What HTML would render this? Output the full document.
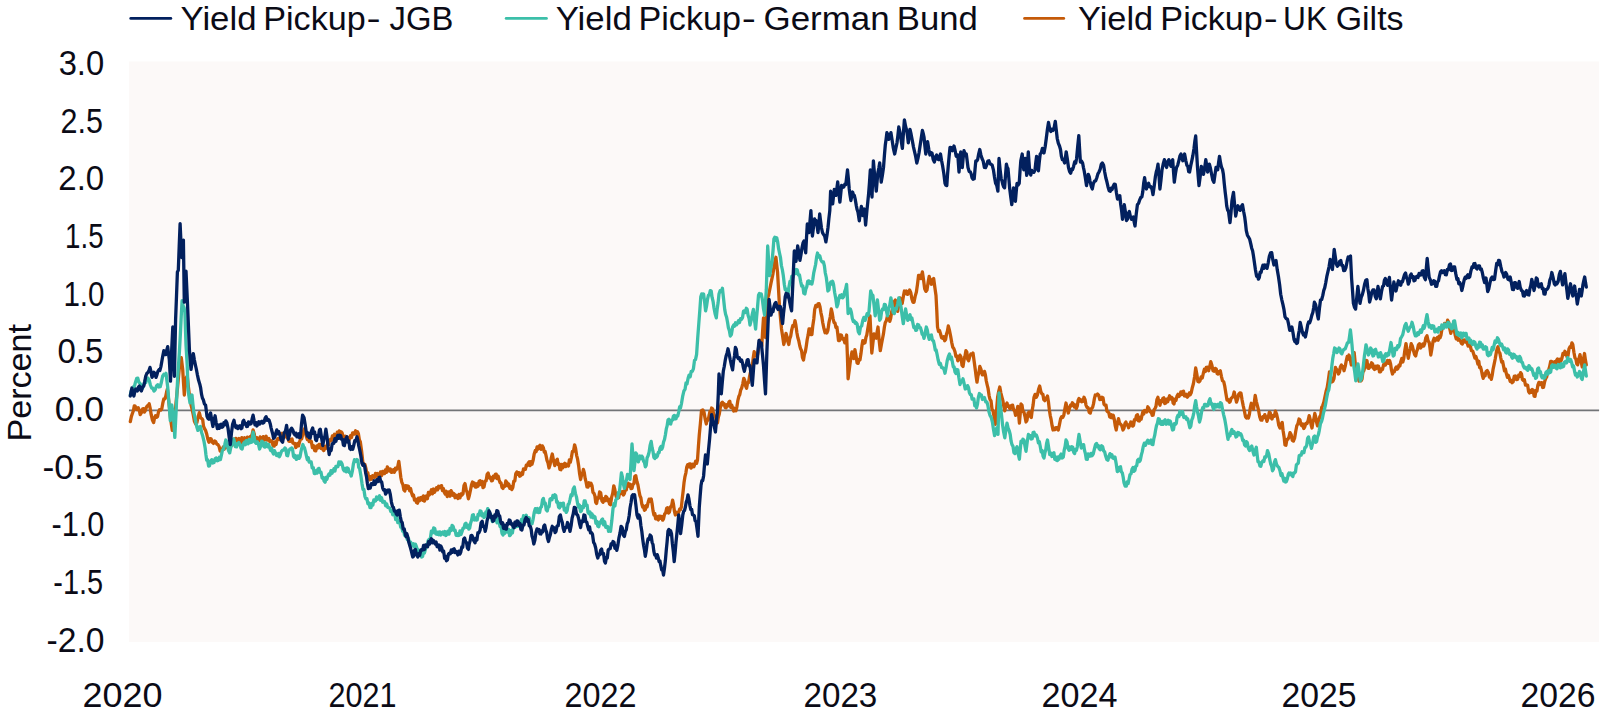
<!DOCTYPE html>
<html lang="en"><head><meta charset="utf-8"><title>Yield Pickup</title>
<style>
html,body{margin:0;padding:0;background:#fff;}
body{width:1600px;height:711px;overflow:hidden;}
svg{display:block;}
text{font-family:"Liberation Sans",sans-serif;fill:#0b0b16;}
.ln{fill:none;stroke-width:3.3;stroke-linejoin:round;stroke-linecap:round;}
</style></head><body>
<svg width="1600" height="711" viewBox="0 0 1600 711">
<rect x="0" y="0" width="1600" height="711" fill="#ffffff"/>
<rect x="129" y="61.5" width="1470.1" height="580.6" fill="#fcf9f8"/>
<line x1="129" y1="410.4" x2="1599.1" y2="410.4" stroke="#727477" stroke-width="1.9"/>

<line x1="130.8" y1="18.4" x2="170.8" y2="18.4" stroke="#02205e" stroke-width="2.9" stroke-linecap="round"/>
<line x1="506.2" y1="18.4" x2="546.4" y2="18.4" stroke="#3cbfa9" stroke-width="2.9" stroke-linecap="round"/>
<line x1="1024.6" y1="18.4" x2="1063.7" y2="18.4" stroke="#c55a08" stroke-width="2.9" stroke-linecap="round"/>
<text y="29.7" font-size="33.5"><tspan x="180.48" textLength="76.06" lengthAdjust="spacingAndGlyphs">Yield</tspan><tspan> </tspan><tspan x="263.27" textLength="102.46" lengthAdjust="spacingAndGlyphs">Pickup</tspan><tspan x="366.51" textLength="14.13" lengthAdjust="spacingAndGlyphs">-</tspan><tspan> </tspan><tspan x="389.51" textLength="63.78" lengthAdjust="spacingAndGlyphs">JGB</tspan></text>
<text y="29.7" font-size="33.5"><tspan x="555.66" textLength="76.10" lengthAdjust="spacingAndGlyphs">Yield</tspan><tspan> </tspan><tspan x="638.47" textLength="102.46" lengthAdjust="spacingAndGlyphs">Pickup</tspan><tspan x="741.71" textLength="14.13" lengthAdjust="spacingAndGlyphs">-</tspan><tspan> </tspan><tspan x="763.49" textLength="126.23" lengthAdjust="spacingAndGlyphs">German</tspan><tspan> </tspan><tspan x="896.79" textLength="81.02" lengthAdjust="spacingAndGlyphs">Bund</tspan></text>
<text y="29.7" font-size="33.5"><tspan x="1078.09" textLength="75.03" lengthAdjust="spacingAndGlyphs">Yield</tspan><tspan> </tspan><tspan x="1160.36" textLength="102.47" lengthAdjust="spacingAndGlyphs">Pickup</tspan><tspan x="1263.65" textLength="14.01" lengthAdjust="spacingAndGlyphs">-</tspan><tspan> </tspan><tspan x="1283.05" textLength="44.09" lengthAdjust="spacingAndGlyphs">UK</tspan><tspan> </tspan><tspan x="1335.70" textLength="67.82" lengthAdjust="spacingAndGlyphs">Gilts</tspan></text>
<text x="58.65" y="74.8" font-size="34.5" textLength="45.52" lengthAdjust="spacingAndGlyphs">3.0</text>
<text x="60.52" y="132.5" font-size="34.5" textLength="42.38" lengthAdjust="spacingAndGlyphs">2.5</text>
<text x="58.30" y="190.2" font-size="34.5" textLength="45.83" lengthAdjust="spacingAndGlyphs">2.0</text>
<text x="65.09" y="247.9" font-size="34.5" textLength="38.45" lengthAdjust="spacingAndGlyphs">1.5</text>
<text x="63.43" y="305.6" font-size="34.5" textLength="41.11" lengthAdjust="spacingAndGlyphs">1.0</text>
<text x="57.48" y="363.3" font-size="34.5" textLength="45.84" lengthAdjust="spacingAndGlyphs">0.5</text>
<text x="54.66" y="421.0" font-size="34.5" textLength="49.49" lengthAdjust="spacingAndGlyphs">0.0</text>
<text x="42.50" y="478.7" font-size="34.5" textLength="61.22" lengthAdjust="spacingAndGlyphs">-0.5</text>
<text x="51.47" y="536.4" font-size="34.5" textLength="53.01" lengthAdjust="spacingAndGlyphs">-1.0</text>
<text x="53.28" y="594.1" font-size="34.5" textLength="49.81" lengthAdjust="spacingAndGlyphs">-1.5</text>
<text x="46.50" y="651.8" font-size="34.5" textLength="58.00" lengthAdjust="spacingAndGlyphs">-2.0</text>
<text x="82.50" y="706.7" font-size="34.5" textLength="80.00" lengthAdjust="spacingAndGlyphs">2020</text>
<text x="328.50" y="706.7" font-size="34.5" textLength="68.00" lengthAdjust="spacingAndGlyphs">2021</text>
<text x="564.50" y="706.7" font-size="34.5" textLength="72.00" lengthAdjust="spacingAndGlyphs">2022</text>
<text x="803.51" y="706.7" font-size="34.5" textLength="73.81" lengthAdjust="spacingAndGlyphs">2023</text>
<text x="1041.50" y="706.7" font-size="34.5" textLength="76.00" lengthAdjust="spacingAndGlyphs">2024</text>
<text x="1281.50" y="706.7" font-size="34.5" textLength="75.00" lengthAdjust="spacingAndGlyphs">2025</text>
<text x="1520.50" y="706.7" font-size="34.5" textLength="75.00" lengthAdjust="spacingAndGlyphs">2026</text>
<text transform="translate(30.8,441.6) rotate(-90)" font-size="32.8" textLength="117.7" lengthAdjust="spacingAndGlyphs">Percent</text>
<polyline class="ln" stroke="#c55a08" points="130.3,421.6 131.3,416.8 132.3,413.7 133.3,411.0 134.3,405.8 135.2,406.3 136.2,408.8 137.2,409.6 138.2,407.8 139.2,409.9 140.2,414.7 141.4,412.6 142.7,408.8 143.6,408.6 144.4,412.1 145.3,410.7 146.3,407.4 147.3,405.8 148.2,405.6 149.2,403.8 150.2,408.4 151.2,414.7 152.4,420.0 153.6,422.6 154.6,417.7 155.5,415.7 156.5,417.3 157.5,416.6 158.5,411.9 159.5,409.8 160.7,410.2 161.8,408.8 162.8,403.2 163.8,398.9 164.8,399.0 165.8,396.0 166.6,392.0 167.4,389.0 168.2,396.5 168.9,402.9 169.7,409.9 170.5,418.0 171.4,424.5 172.3,430.4 173.2,426.1 174.2,424.5 175.1,415.5 175.9,404.2 176.8,395.0 178.0,382.6 179.2,369.4 180.2,362.7 181.3,357.6 182.7,369.4 183.5,382.7 184.3,395.0 185.7,379.2 186.6,377.0 187.4,377.3 188.4,386.9 189.4,395.0 190.3,398.7 191.1,405.3 192.0,408.8 193.2,414.5 194.5,421.6 195.7,423.9 196.9,422.6 198.1,417.0 199.3,412.7 200.6,417.7 201.8,418.6 202.7,419.8 203.5,426.1 204.4,428.5 205.6,430.4 206.7,434.0 207.8,439.0 208.9,442.2 210.1,438.6 211.2,438.9 212.3,442.4 213.4,443.4 214.6,441.0 215.7,441.7 216.8,444.1 217.9,444.5 219.1,446.5 220.2,451.2 221.3,451.2 222.4,449.0 223.3,447.0 224.1,449.3 225.0,447.0 226.2,445.9 227.5,447.9 228.8,448.5 230.0,445.0 231.0,441.9 232.0,445.5 233.0,442.0 233.9,439.1 234.8,443.5 235.8,438.4 236.7,441.1 237.6,439.4 238.8,438.4 239.9,441.1 240.8,442.9 241.8,437.7 242.7,439.4 243.6,441.3 244.6,437.8 245.5,440.0 246.4,440.8 247.4,437.1 248.3,438.9 249.2,440.3 250.2,436.8 251.1,437.7 252.1,434.5 253.1,429.9 254.1,433.4 255.0,438.3 256.0,441.0 256.9,437.7 257.9,438.9 259.0,441.0 260.1,436.9 261.2,438.3 262.2,439.3 263.2,436.6 264.2,440.1 265.2,437.7 266.1,436.2 267.1,440.2 268.0,440.0 268.9,438.5 269.9,441.7 270.8,441.1 271.9,440.7 273.1,446.0 274.2,446.2 275.1,441.9 276.1,444.5 277.0,440.0 278.1,438.4 279.2,439.4 280.1,439.8 281.1,433.9 282.0,433.2 282.9,436.0 283.7,437.7 284.9,434.6 286.0,434.4 286.9,437.5 287.9,437.7 288.8,441.1 289.9,441.4 291.0,439.4 292.0,438.9 292.9,443.2 293.9,443.4 294.8,443.4 295.8,447.5 296.7,446.2 297.6,443.5 298.6,445.9 299.5,442.2 300.6,438.8 301.7,438.9 302.5,435.4 303.4,431.0 304.5,428.7 305.4,432.2 306.4,436.8 307.3,439.5 308.3,436.7 309.2,441.6 310.2,440.6 311.3,441.3 312.4,447.6 313.6,445.7 314.7,450.7 315.8,450.9 316.9,445.9 317.9,448.1 319.0,444.4 319.9,444.3 320.9,448.3 321.9,445.6 322.8,449.4 323.8,450.6 324.7,446.3 325.7,448.5 326.6,446.9 327.6,443.4 328.5,445.0 329.4,440.3 330.4,439.3 331.4,440.5 332.4,435.8 333.5,438.0 334.5,434.3 335.5,435.5 336.4,436.6 337.3,432.2 338.2,435.1 339.2,430.9 340.1,434.5 341.0,431.7 342.1,432.9 343.3,436.9 344.4,438.0 345.4,436.2 346.4,441.1 347.4,437.4 348.4,440.7 349.4,439.3 350.5,435.8 351.5,437.6 352.6,433.0 353.7,433.0 354.6,434.1 355.6,430.8 356.6,433.9 357.5,431.7 358.4,433.7 359.4,439.9 360.3,441.8 361.6,451.0 362.8,462.0 363.8,465.1 364.9,464.4 365.9,468.4 366.8,473.4 367.8,472.7 368.8,478.2 369.7,479.8 370.6,476.6 371.6,479.2 372.6,475.7 373.5,476.0 374.5,477.4 375.5,473.4 376.5,476.3 377.5,473.5 378.5,474.7 379.5,475.9 380.5,471.9 381.6,475.6 382.6,471.4 383.6,473.5 384.5,473.7 385.4,470.0 386.4,472.4 387.3,467.0 388.2,468.4 389.3,471.0 390.4,469.0 391.4,472.4 392.5,472.2 393.4,469.8 394.4,472.2 395.4,468.1 396.3,469.7 397.6,467.4 398.8,461.3 399.8,468.9 400.8,477.3 401.8,482.2 402.9,484.6 403.9,490.0 404.8,491.0 405.8,485.7 406.8,488.5 407.7,486.0 408.6,486.5 409.6,490.7 410.6,488.6 411.5,492.5 412.5,495.9 413.5,495.0 414.5,500.2 415.5,499.0 416.5,502.6 417.5,503.2 418.5,498.1 419.6,500.7 420.6,497.6 421.6,497.5 422.6,500.3 423.5,495.8 424.4,501.1 425.4,498.8 426.4,495.9 427.4,498.8 428.4,492.5 429.4,495.0 430.4,492.5 431.4,489.8 432.4,493.8 433.5,489.0 434.5,492.3 435.5,490.0 436.5,487.8 437.5,489.9 438.6,486.3 439.6,487.8 440.6,486.0 441.6,485.7 442.5,490.6 443.4,488.6 444.4,492.5 445.3,494.1 446.3,491.3 447.2,496.5 448.2,495.0 449.1,491.9 450.1,496.2 451.1,490.7 452.0,492.5 453.0,495.4 454.0,493.6 455.0,497.7 456.0,495.3 457.0,497.5 458.0,498.4 459.0,494.5 460.0,497.8 461.0,493.9 462.0,495.0 463.0,493.7 464.0,485.5 465.0,483.6 466.1,489.4 467.3,493.1 468.4,498.8 469.4,495.2 470.5,490.0 471.5,484.9 472.5,482.0 473.4,485.5 474.4,483.0 475.4,487.0 476.3,487.0 477.2,483.6 478.1,486.2 479.1,481.2 480.0,480.8 481.0,484.6 482.0,481.4 483.0,487.7 484.0,487.0 485.1,481.2 486.1,480.9 487.1,474.5 488.2,473.0 489.3,478.0 490.4,477.2 491.5,480.8 492.4,480.6 493.4,476.2 494.4,477.8 495.3,474.4 496.2,474.1 497.1,478.7 498.1,476.0 499.0,479.5 500.0,482.6 501.0,482.9 502.0,487.3 503.0,488.4 503.9,485.7 504.9,486.2 505.8,481.0 506.7,482.0 507.7,485.9 508.7,484.0 509.8,488.3 510.8,486.6 511.8,489.6 512.8,487.5 513.8,481.1 514.8,481.0 515.8,473.6 516.8,472.0 517.8,474.4 518.7,472.6 519.6,476.2 520.6,475.7 521.5,473.0 522.5,474.4 523.5,468.9 524.4,469.4 525.4,469.4 526.3,465.2 527.2,465.8 528.2,463.0 529.2,461.8 530.1,465.6 531.0,461.7 532.0,464.3 533.1,460.4 534.2,453.9 535.3,450.4 536.2,451.4 537.1,446.9 538.0,449.1 538.9,446.6 540.0,445.2 541.1,449.3 542.3,445.9 543.4,447.8 544.3,452.1 545.1,451.4 546.0,455.4 547.0,460.3 548.0,462.9 549.0,468.0 550.1,464.4 551.2,458.2 552.3,454.0 553.5,460.5 554.8,465.6 556.0,461.0 557.3,459.2 558.2,464.7 559.0,463.8 559.9,469.4 560.9,469.7 561.8,464.4 562.8,467.8 563.7,464.3 564.7,463.3 565.6,466.6 566.5,464.2 567.5,465.6 568.5,466.0 569.4,459.8 570.3,462.3 571.3,458.0 572.4,451.4 573.5,451.2 574.6,444.8 575.6,448.5 576.6,455.3 577.6,459.2 578.6,465.4 579.6,473.7 580.6,479.5 581.5,475.3 582.5,473.8 583.4,469.4 584.3,472.7 585.2,478.7 586.1,482.1 587.0,487.0 588.0,487.2 589.0,482.8 590.0,485.4 591.0,483.3 592.0,485.7 593.0,492.4 594.0,493.4 594.9,495.8 595.7,502.2 596.6,503.5 597.6,497.6 598.6,498.2 599.6,492.0 600.7,492.9 601.9,500.8 603.0,502.3 603.9,498.8 604.9,500.7 605.8,496.3 606.7,497.2 607.7,500.9 608.6,498.9 609.5,504.0 610.5,504.8 611.6,497.4 612.7,493.4 613.8,485.8 614.8,489.5 615.8,495.0 616.8,498.5 617.8,495.0 618.7,497.6 619.6,492.3 620.6,492.0 621.5,493.6 622.5,491.4 623.5,495.0 624.4,493.4 625.4,488.7 626.3,489.9 627.2,484.3 628.2,483.3 629.2,486.2 630.1,484.3 631.0,488.7 632.0,488.4 633.0,484.2 633.9,483.8 634.8,476.3 635.8,475.7 636.9,481.6 637.9,484.8 639.0,491.0 639.9,495.6 640.9,498.0 641.8,504.1 642.7,507.0 643.6,506.1 644.4,510.3 645.3,509.6 646.2,505.8 647.1,506.9 648.0,502.9 649.1,499.1 650.1,501.4 651.2,498.9 652.1,503.8 653.0,510.6 653.9,515.0 654.8,513.5 655.6,518.8 656.5,516.3 657.4,519.0 658.3,519.9 659.1,516.1 660.0,516.2 660.9,518.3 661.8,516.4 662.6,520.2 663.5,519.0 664.6,514.0 665.6,513.1 666.7,508.2 667.6,507.7 668.5,513.1 669.4,512.2 670.5,506.8 671.5,506.3 672.6,500.2 673.5,504.4 674.4,511.1 675.3,515.0 676.4,512.2 677.6,514.5 678.7,512.2 679.6,509.3 680.5,509.6 681.4,507.0 682.3,498.2 683.1,491.5 684.0,482.8 684.9,476.9 685.9,472.8 686.8,466.8 687.7,464.6 688.5,466.9 689.4,464.0 690.3,463.9 691.1,468.1 692.0,466.8 692.9,464.3 693.9,466.7 694.8,464.0 695.7,461.1 696.6,463.4 697.5,460.0 698.4,446.7 699.3,434.7 700.4,423.4 701.5,410.7 702.8,409.9 704.0,412.0 705.1,418.8 706.3,424.0 707.2,419.2 708.1,420.1 709.0,416.0 709.9,411.5 710.7,412.9 711.6,408.0 712.7,409.0 713.7,414.6 714.8,416.0 715.7,417.1 716.6,422.4 717.5,422.7 718.4,416.9 719.3,414.0 720.2,408.0 721.3,403.4 722.4,402.2 723.3,404.9 724.2,403.8 725.2,407.7 726.1,407.8 727.0,404.8 728.0,406.0 728.9,402.2 729.8,401.2 730.8,407.4 731.7,405.1 732.6,407.8 733.7,411.1 734.9,408.3 736.0,410.7 736.9,406.8 737.9,400.3 738.8,396.6 739.7,394.8 740.7,390.0 741.6,388.2 742.7,384.1 743.8,378.3 744.7,380.3 745.7,386.3 746.6,388.2 747.6,382.6 748.5,382.6 749.5,376.9 750.4,372.7 751.4,370.1 752.3,365.7 753.2,358.1 754.2,351.6 755.1,355.1 756.1,354.2 757.0,357.2 758.0,352.5 758.9,344.7 759.9,340.3 760.8,344.1 761.8,346.0 762.6,331.4 763.5,317.8 764.5,328.0 765.5,337.5 766.5,317.3 767.5,298.0 768.6,295.3 769.7,289.7 770.9,283.6 772.0,278.4 773.0,273.6 773.9,267.2 774.9,261.4 775.9,257.3 776.8,265.4 777.6,272.8 778.5,288.9 779.5,306.6 780.5,318.3 781.5,329.0 782.6,335.9 783.8,344.5 784.9,339.7 786.0,333.3 786.9,336.4 787.9,341.7 788.8,344.5 789.7,338.9 790.7,336.2 791.6,330.5 792.7,325.8 793.9,326.1 795.0,320.6 795.9,325.1 796.9,332.8 797.8,337.5 798.7,340.4 799.7,345.5 800.6,348.8 801.6,350.8 802.5,357.7 803.5,360.0 804.4,354.3 805.4,351.6 806.3,346.0 807.2,339.5 808.1,335.2 809.0,329.0 810.0,329.0 810.9,334.7 811.9,334.7 812.8,325.7 813.8,319.0 814.7,309.4 815.8,305.5 816.9,306.8 818.0,303.8 819.0,303.6 820.0,306.8 820.9,312.6 821.8,316.6 822.7,322.5 823.9,328.4 825.0,332.7 826.0,330.1 826.9,333.0 827.9,330.4 829.0,322.3 830.2,317.0 831.3,309.0 832.2,312.9 833.1,318.5 834.0,322.5 835.0,323.0 835.9,327.5 836.9,327.0 837.7,333.2 838.5,340.6 839.5,340.5 840.4,334.8 841.4,335.0 842.5,339.1 843.7,338.8 844.8,342.8 845.7,339.4 846.6,335.0 847.4,356.3 848.1,378.8 849.2,370.2 850.4,360.8 851.2,355.8 852.0,351.8 852.9,356.0 853.8,358.6 854.9,349.6 856.0,355.5 857.1,363.0 858.1,363.4 859.0,359.4 860.0,359.7 860.9,354.1 861.9,346.1 862.8,340.6 863.9,343.3 865.0,342.8 865.9,337.6 866.8,334.9 867.7,329.3 868.9,322.1 870.0,315.8 870.9,334.8 871.8,353.0 872.9,343.0 874.0,333.8 875.1,336.9 876.3,338.3 877.1,332.0 878.0,327.0 879.1,339.7 880.3,350.7 881.5,344.0 882.6,338.3 883.5,333.6 884.4,327.0 885.3,322.5 886.4,320.7 887.5,315.8 888.6,316.8 889.8,321.4 890.7,318.2 891.6,312.3 892.5,309.0 893.5,307.1 894.4,301.5 895.4,300.0 896.5,306.1 897.7,311.3 898.9,303.9 900.0,297.8 901.1,302.0 902.2,303.4 903.3,296.7 904.4,291.0 905.4,293.5 906.4,291.0 907.4,294.4 908.5,292.9 909.6,290.0 910.8,292.7 911.9,298.9 913.0,302.3 914.0,302.3 915.2,296.1 916.4,292.0 917.5,284.2 918.6,275.3 919.8,275.5 920.9,278.6 921.6,275.7 922.4,271.9 923.5,279.6 924.7,288.8 925.9,291.4 927.0,290.0 928.1,282.4 929.2,276.4 930.3,281.4 931.4,284.3 932.5,279.6 933.7,278.6 934.9,287.7 936.0,295.5 936.8,310.8 937.5,327.0 938.5,331.4 939.5,330.6 940.5,333.8 941.6,337.7 942.7,338.3 943.7,336.7 944.6,340.7 945.6,339.4 946.5,334.1 947.4,331.2 948.3,326.0 949.5,330.5 950.6,336.0 951.7,342.3 952.8,347.3 953.9,348.8 955.0,351.8 955.9,356.4 956.9,355.9 957.8,360.8 958.9,359.2 960.0,355.2 961.0,357.1 962.0,365.2 963.0,366.4 964.0,360.0 964.9,356.5 965.9,350.7 966.8,352.0 967.7,359.2 968.6,360.8 969.7,356.7 970.8,354.0 971.9,354.6 973.0,353.0 974.1,360.9 975.3,369.8 976.1,376.3 977.0,382.2 977.9,376.1 978.9,372.8 979.8,366.4 981.0,369.4 982.3,374.8 983.4,374.8 984.5,371.4 985.4,375.0 986.3,381.0 987.2,385.0 988.1,388.7 989.1,395.6 990.0,399.5 991.0,400.8 992.0,409.2 993.0,410.8 994.1,416.7 995.3,424.3 996.5,411.4 997.6,397.3 998.7,391.3 999.8,387.0 1000.9,393.1 1002.0,397.3 1002.9,400.7 1003.9,407.1 1004.8,410.8 1005.9,405.3 1007.0,403.0 1007.9,406.4 1008.8,405.7 1009.7,408.5 1010.7,408.3 1011.6,405.3 1012.6,405.2 1013.6,409.8 1014.6,410.8 1015.6,415.3 1016.7,411.4 1017.8,406.3 1018.6,414.2 1019.4,423.2 1020.2,414.1 1021.0,404.0 1022.0,405.1 1022.9,411.3 1023.9,412.0 1025.0,416.5 1026.0,422.0 1027.0,420.4 1028.0,413.1 1029.0,412.0 1030.2,416.0 1031.3,417.5 1032.2,410.2 1033.1,405.1 1034.0,397.3 1035.1,394.4 1036.3,397.3 1037.4,395.0 1038.6,389.3 1039.7,386.0 1040.8,391.3 1041.9,394.0 1042.9,394.4 1043.8,399.7 1044.8,400.7 1045.7,398.3 1046.6,398.7 1047.5,396.0 1048.4,401.4 1049.3,409.4 1050.2,415.3 1051.1,419.4 1052.1,425.7 1053.0,430.0 1054.0,428.0 1055.0,429.7 1056.0,427.7 1057.2,427.6 1058.3,430.0 1059.4,424.8 1060.6,418.7 1061.7,416.6 1062.7,417.5 1063.8,415.3 1064.9,408.7 1066.0,403.0 1067.2,408.7 1068.3,413.0 1069.4,408.4 1070.5,405.2 1071.5,405.7 1072.4,402.8 1073.4,404.0 1074.4,407.1 1075.4,404.9 1076.4,408.5 1077.3,406.0 1078.1,400.4 1079.0,398.4 1079.9,401.0 1080.9,399.8 1081.8,401.8 1082.9,401.4 1084.0,397.3 1085.0,399.4 1086.0,405.1 1087.0,407.4 1088.1,407.6 1089.2,412.3 1090.3,413.0 1091.4,408.7 1092.6,407.4 1093.5,403.9 1094.4,398.6 1095.3,395.0 1096.4,395.2 1097.5,394.0 1098.7,395.1 1099.8,399.5 1100.9,399.4 1102.0,397.3 1103.0,397.7 1104.0,404.3 1105.0,405.2 1106.0,405.1 1106.9,411.1 1107.9,412.0 1108.8,412.6 1109.7,416.9 1110.6,417.5 1111.5,414.7 1112.4,417.8 1113.3,415.3 1114.3,419.5 1115.2,425.6 1116.2,430.0 1117.3,423.6 1118.5,418.7 1119.6,423.4 1120.7,424.3 1121.8,425.7 1123.0,430.0 1124.0,428.2 1124.9,423.7 1125.9,422.0 1126.8,424.9 1127.7,424.7 1128.6,427.7 1129.7,425.6 1130.8,422.0 1131.7,422.2 1132.6,426.1 1133.5,425.4 1134.5,419.6 1135.5,419.9 1136.5,415.3 1137.5,414.7 1138.4,420.8 1139.4,421.0 1140.3,417.1 1141.1,419.3 1142.0,415.3 1142.9,411.7 1143.8,414.0 1144.6,410.5 1145.5,410.8 1146.6,412.0 1147.8,406.8 1148.9,408.5 1150.0,411.8 1151.1,411.6 1152.2,415.3 1153.1,415.2 1154.1,409.7 1155.0,408.5 1156.0,406.3 1156.9,399.6 1157.9,397.3 1159.0,402.7 1160.0,405.2 1160.9,400.6 1161.9,401.8 1162.8,398.4 1163.8,397.8 1164.7,403.5 1165.7,403.0 1166.7,399.1 1167.7,401.8 1168.7,398.4 1169.6,395.8 1170.5,399.0 1171.4,397.3 1172.3,398.1 1173.1,402.9 1174.0,404.0 1175.0,399.1 1176.0,400.4 1177.0,396.0 1178.0,394.3 1178.9,396.5 1179.9,395.0 1180.8,392.0 1181.7,394.5 1182.6,391.6 1183.5,391.2 1184.4,395.9 1185.3,396.0 1186.3,394.3 1187.3,397.2 1188.3,396.0 1189.3,392.9 1190.2,394.8 1191.2,392.8 1192.3,387.7 1193.4,383.8 1194.6,376.7 1195.7,368.0 1196.8,374.0 1197.9,381.5 1199.0,381.9 1200.0,380.8 1201.1,376.9 1202.3,377.9 1203.4,373.0 1204.4,369.2 1205.3,371.5 1206.3,367.3 1207.4,367.2 1208.6,370.7 1209.7,366.8 1210.8,361.7 1211.9,365.3 1213.0,370.7 1214.2,371.2 1215.3,368.4 1216.2,368.9 1217.1,373.5 1218.0,374.0 1219.2,371.6 1220.3,370.7 1221.4,376.3 1222.5,380.8 1223.7,381.7 1224.8,386.4 1225.9,393.6 1227.0,400.0 1228.2,399.7 1229.3,402.2 1230.2,401.7 1231.1,398.3 1232.0,397.7 1233.1,396.3 1234.2,392.0 1235.3,396.6 1236.5,402.2 1237.6,399.0 1238.7,394.3 1239.8,392.9 1241.0,393.2 1242.1,400.1 1243.2,405.6 1244.3,410.5 1245.5,416.8 1246.5,418.1 1247.4,416.3 1248.4,418.0 1249.4,414.3 1250.3,407.6 1251.3,403.3 1252.4,407.6 1253.6,409.0 1254.4,401.8 1255.2,395.4 1256.3,401.3 1257.4,405.6 1258.6,410.5 1259.7,416.8 1260.8,420.1 1261.9,420.2 1262.9,416.6 1263.8,417.7 1264.8,414.6 1265.9,417.1 1267.0,421.3 1268.2,417.6 1269.3,412.3 1270.2,412.5 1271.1,417.8 1272.0,419.0 1273.1,415.4 1274.3,416.3 1275.4,411.2 1276.6,414.1 1277.7,419.0 1278.8,425.4 1280.0,428.0 1281.1,424.4 1282.2,422.4 1283.1,430.7 1284.1,436.9 1285.0,445.0 1285.9,445.3 1286.9,439.4 1287.8,439.3 1288.9,437.4 1290.0,432.6 1291.2,434.8 1292.3,440.4 1293.4,441.1 1294.6,438.2 1295.7,431.5 1296.8,425.8 1297.9,423.8 1299.0,419.0 1299.9,419.7 1300.9,424.6 1301.8,425.8 1302.8,424.0 1303.7,428.5 1304.7,427.0 1305.8,423.5 1307.0,423.6 1308.1,420.6 1309.2,415.7 1310.1,419.0 1311.1,424.7 1312.0,428.0 1312.9,422.1 1313.9,418.8 1314.8,413.4 1315.7,416.9 1316.6,422.4 1317.5,425.8 1318.7,420.5 1319.8,416.8 1320.8,414.8 1321.7,407.3 1322.7,405.6 1323.8,402.3 1325.0,396.5 1326.1,391.3 1327.2,387.5 1328.3,380.4 1329.5,371.8 1330.6,376.4 1331.7,382.0 1332.8,381.4 1334.0,378.5 1334.8,372.3 1335.5,367.3 1336.5,371.0 1337.5,370.1 1338.5,374.0 1339.5,372.0 1340.4,366.8 1341.4,365.0 1342.3,367.9 1343.1,366.6 1344.0,370.7 1345.2,366.4 1346.3,360.5 1347.2,356.5 1348.1,359.2 1349.0,355.0 1350.2,359.3 1351.3,365.0 1352.3,362.1 1353.2,355.9 1354.2,352.6 1355.0,360.9 1355.8,368.4 1356.9,372.0 1358.0,377.4 1359.0,381.0 1360.0,377.2 1361.0,380.8 1362.0,379.1 1362.9,371.9 1363.9,370.7 1365.0,366.2 1366.0,360.5 1367.0,360.6 1367.9,368.1 1368.9,368.4 1369.8,365.3 1370.7,366.9 1371.6,362.8 1372.6,363.9 1373.5,368.3 1374.5,369.5 1375.5,366.3 1376.4,368.5 1377.4,366.0 1378.5,366.1 1379.5,371.9 1380.6,371.8 1381.6,368.6 1382.5,369.4 1383.5,365.0 1384.5,362.9 1385.4,365.1 1386.4,362.8 1387.5,360.5 1388.5,363.4 1389.6,360.5 1390.6,364.0 1391.5,370.2 1392.5,374.0 1393.5,371.1 1394.4,371.6 1395.4,368.4 1396.3,367.0 1397.1,369.3 1398.0,368.4 1398.9,365.1 1399.9,366.0 1400.8,361.7 1401.8,358.5 1402.8,362.0 1403.8,358.3 1404.9,350.0 1406.0,343.6 1407.2,351.9 1408.3,358.3 1409.3,352.7 1410.2,349.1 1411.2,343.6 1412.3,345.9 1413.4,350.4 1414.6,354.5 1415.7,356.0 1416.6,351.5 1417.5,349.4 1418.4,344.8 1419.5,343.7 1420.7,348.0 1421.8,346.0 1422.8,343.9 1423.7,346.0 1424.7,343.6 1425.8,337.9 1427.0,335.8 1428.1,340.8 1429.2,342.5 1430.0,348.4 1430.8,355.0 1431.9,348.7 1433.0,341.4 1434.1,338.3 1435.3,340.7 1436.4,339.0 1437.3,337.6 1438.2,340.2 1439.1,336.3 1440.0,337.8 1440.9,335.5 1441.8,330.1 1442.7,327.6 1443.7,327.7 1444.6,323.3 1445.6,324.3 1446.6,325.2 1447.6,320.2 1448.6,322.0 1449.7,328.5 1450.8,333.3 1451.7,329.1 1452.6,330.4 1453.5,327.6 1454.4,330.8 1455.3,335.6 1456.2,338.9 1457.1,337.4 1458.1,340.3 1459.0,338.9 1460.2,340.4 1461.4,343.4 1462.4,344.0 1463.3,340.1 1464.3,340.0 1465.2,342.1 1466.1,340.3 1467.0,342.3 1468.1,346.1 1469.3,343.7 1470.4,346.8 1471.5,350.7 1472.7,351.0 1473.8,354.6 1474.9,358.1 1475.9,356.4 1477.0,360.3 1477.9,364.0 1478.8,361.2 1479.6,367.6 1480.5,367.0 1481.4,370.2 1482.3,375.0 1483.2,378.3 1484.1,374.0 1485.1,375.9 1486.0,371.5 1487.2,370.6 1488.4,372.6 1489.4,377.1 1490.3,375.4 1491.3,379.4 1492.2,375.2 1493.1,369.1 1494.0,364.8 1495.2,359.0 1496.3,352.4 1497.2,348.5 1498.0,346.8 1498.9,351.7 1499.9,353.1 1500.8,358.0 1501.7,362.2 1502.6,361.4 1503.5,365.9 1504.5,370.9 1505.4,369.0 1506.4,373.8 1507.4,377.2 1508.3,375.2 1509.3,378.3 1510.2,381.4 1511.1,380.2 1512.0,382.8 1513.1,381.8 1514.3,376.2 1515.4,376.0 1516.5,379.6 1517.6,379.4 1518.6,375.3 1519.6,376.5 1520.6,372.6 1521.5,373.9 1522.4,379.4 1523.3,380.5 1524.4,379.7 1525.5,385.2 1526.6,385.0 1527.6,385.1 1528.6,391.5 1529.6,393.0 1530.5,390.5 1531.4,392.3 1532.3,389.5 1533.2,390.3 1534.1,396.1 1535.0,396.3 1536.0,390.3 1536.9,391.2 1537.9,385.0 1538.9,382.4 1539.8,384.5 1540.8,382.8 1541.7,382.6 1542.6,387.5 1543.5,387.3 1544.7,381.5 1545.8,378.3 1546.7,376.9 1547.6,371.1 1548.5,370.4 1549.6,366.8 1550.7,361.4 1551.7,361.5 1552.6,365.6 1553.6,364.8 1554.6,361.8 1555.6,363.6 1556.6,360.3 1557.5,358.9 1558.4,364.0 1559.3,362.5 1560.2,359.2 1561.1,360.6 1562.0,358.0 1563.0,353.4 1563.9,354.7 1564.9,351.3 1566.0,353.0 1567.0,356.9 1568.0,355.8 1569.0,348.7 1570.0,346.8 1570.9,347.3 1571.9,342.9 1572.8,344.5 1573.9,352.2 1575.0,358.0 1575.9,359.0 1576.8,363.9 1577.7,364.8 1578.8,359.2 1580.0,354.6 1581.1,361.2 1582.2,367.0 1583.3,359.7 1584.5,353.5 1585.4,359.9 1586.3,364.8"/>
<polyline class="ln" stroke="#3cbfa9" points="130.3,395.0 131.2,391.1 132.0,393.8 132.9,390.0 133.8,386.5 134.6,385.7 135.5,382.2 136.7,378.4 137.8,378.2 138.8,382.1 139.8,383.2 140.8,384.7 141.8,389.0 142.9,387.6 144.0,384.2 144.9,380.8 145.8,382.6 146.7,379.2 147.9,378.1 149.2,380.2 150.4,385.0 151.6,388.0 152.8,388.2 154.0,391.0 155.2,389.8 156.5,386.0 157.8,384.7 159.0,387.0 160.2,386.7 161.4,382.2 162.6,376.2 163.8,374.3 164.9,375.1 166.0,373.3 166.8,379.7 167.7,387.0 168.5,397.3 169.3,406.8 170.3,420.6 171.7,404.8 172.5,409.5 173.3,414.7 174.1,426.2 174.8,437.3 176.2,408.8 177.6,379.2 178.5,365.0 179.4,351.8 180.3,335.4 181.2,317.0 182.1,300.6 183.0,305.5 184.0,307.4 184.9,312.0 186.0,345.0 187.2,365.0 188.0,389.0 189.0,396.6 190.0,402.9 191.0,398.1 192.0,395.0 192.9,404.2 193.9,412.7 194.9,417.2 195.9,422.6 196.9,427.3 197.9,430.4 199.2,427.0 200.4,426.5 201.6,432.4 202.8,436.3 204.0,441.4 205.2,448.2 205.9,454.5 206.7,460.2 207.6,459.8 208.6,466.1 209.5,465.9 210.6,461.2 211.7,459.7 212.8,463.0 214.0,462.5 215.1,458.6 216.2,458.0 217.3,460.8 218.5,460.2 219.4,457.3 220.4,459.6 221.3,455.7 222.4,450.4 223.6,449.0 224.7,444.9 225.8,440.0 226.7,441.6 227.5,445.6 228.6,450.8 229.7,452.9 230.8,447.4 232.0,444.5 232.8,442.7 233.7,438.9 234.6,442.3 235.4,446.7 236.5,446.9 237.6,443.4 238.8,442.6 239.9,444.5 241.0,448.4 242.1,449.0 243.2,444.4 244.4,442.2 245.3,444.8 246.3,440.7 247.2,443.4 248.1,443.8 249.1,439.4 250.0,440.0 250.8,442.5 251.7,442.2 253.1,432.1 254.1,436.5 255.0,442.2 256.1,443.3 257.3,441.7 258.5,444.4 259.6,449.0 260.7,446.1 261.8,441.1 262.9,442.4 264.0,446.7 265.0,447.1 265.9,442.9 266.9,444.5 267.8,446.9 268.8,444.5 269.7,447.9 270.6,450.5 271.6,448.1 272.5,451.8 273.4,454.0 274.4,450.6 275.3,452.4 276.5,455.4 277.6,455.7 278.5,453.5 279.5,456.7 280.4,454.6 281.5,451.3 282.6,450.1 283.8,450.0 284.9,447.9 285.8,448.8 286.8,455.4 287.7,455.7 288.8,450.9 289.9,449.0 290.8,449.0 291.6,447.9 292.5,448.9 293.5,456.2 294.4,457.4 295.3,455.5 296.3,459.4 297.2,458.6 298.1,456.0 299.1,458.4 300.0,456.9 300.8,452.4 301.5,449.0 302.9,444.5 303.7,446.9 304.5,447.9 305.4,451.4 306.4,455.8 307.3,459.7 308.3,457.8 309.2,462.2 310.2,462.0 311.2,461.9 312.2,467.9 313.3,467.6 314.3,473.6 315.3,473.5 316.2,470.6 317.1,473.1 318.1,468.7 319.0,468.4 320.0,472.4 321.0,472.2 322.1,478.0 323.1,477.4 324.1,481.0 325.1,482.3 326.0,477.5 326.9,479.4 327.9,476.0 328.9,474.1 329.9,475.3 331.0,470.7 332.0,473.2 333.0,471.0 333.9,468.8 334.9,471.1 335.9,466.4 336.8,467.0 337.9,466.7 338.9,461.9 339.9,464.4 341.0,462.0 342.1,464.0 343.3,469.5 344.4,471.0 345.3,468.4 346.3,471.9 347.2,467.9 348.2,468.4 349.2,472.4 350.2,472.5 351.2,476.0 352.3,471.4 353.4,464.0 354.5,459.6 355.8,461.4 357.0,459.6 357.9,460.4 358.7,467.4 359.6,468.4 360.8,475.1 362.0,483.6 363.0,489.5 363.9,489.5 364.9,496.3 365.9,498.8 366.9,498.6 367.9,503.8 369.0,503.1 370.0,507.6 371.0,507.7 371.9,503.4 372.9,505.0 373.8,500.0 374.7,500.0 375.6,500.9 376.6,497.0 377.6,499.3 378.5,497.5 379.5,495.7 380.5,500.4 381.6,497.8 382.6,502.2 383.6,501.3 384.6,501.6 385.6,505.7 386.7,504.0 387.7,507.4 388.7,507.7 389.7,508.0 390.7,511.4 391.7,510.4 392.7,514.7 393.7,514.0 394.7,513.8 395.7,519.6 396.8,516.1 397.8,522.7 398.8,521.6 399.8,522.2 400.7,527.1 401.6,526.0 402.6,531.1 403.6,529.1 404.5,535.3 405.4,532.8 406.4,536.8 407.4,539.7 408.4,538.2 409.5,543.2 410.5,542.0 411.5,544.4 412.5,545.9 413.5,543.8 414.5,547.0 415.5,544.3 416.5,546.9 417.5,550.2 418.5,549.9 419.6,554.2 420.6,553.7 421.6,557.0 422.6,556.4 423.5,551.4 424.4,553.0 425.4,549.4 426.3,545.4 427.3,546.3 428.2,540.6 429.2,539.3 430.3,538.9 431.4,531.1 432.6,532.9 433.7,527.9 434.7,528.4 435.8,533.9 436.8,534.2 437.8,532.1 438.8,534.7 439.8,531.9 440.8,535.0 441.8,533.0 442.8,532.0 443.8,534.5 444.9,531.5 445.9,535.5 446.9,534.2 447.9,531.1 449.0,534.1 450.0,528.5 451.1,530.5 452.1,525.3 453.2,526.6 454.1,530.4 455.1,530.1 456.1,535.3 457.0,535.5 458.0,533.7 459.0,535.4 460.0,530.9 461.0,534.5 462.0,531.7 463.0,528.2 464.0,528.2 465.0,524.0 465.9,523.2 466.9,527.3 467.8,525.1 468.8,529.1 469.7,528.0 470.6,523.2 471.6,520.0 472.5,515.0 473.4,514.7 474.4,520.0 475.4,517.7 476.3,520.0 477.2,519.9 478.1,514.3 479.1,515.1 480.0,511.0 481.0,511.1 482.0,515.9 483.0,513.7 484.0,517.5 484.9,516.9 485.9,511.9 486.8,511.9 487.7,508.6 488.6,510.1 489.6,516.0 490.6,514.2 491.5,518.7 492.4,521.6 493.4,517.3 494.4,520.6 495.3,520.0 496.2,518.3 497.1,522.9 498.1,518.8 499.0,521.3 500.0,526.5 501.0,526.6 502.0,533.3 503.0,535.0 503.9,531.2 504.9,533.3 505.8,528.6 506.7,528.9 507.6,532.1 508.6,529.4 509.6,535.7 510.5,535.0 511.4,530.3 512.4,533.0 513.3,527.1 514.3,526.3 515.3,527.2 516.4,523.7 517.5,526.4 518.5,523.0 519.5,526.3 520.6,523.8 521.5,519.4 522.5,521.8 523.5,515.7 524.4,516.0 525.4,517.4 526.3,515.2 527.2,519.7 528.2,517.5 529.2,517.9 530.1,522.3 531.0,521.2 532.0,523.8 533.1,519.3 534.2,512.5 535.3,508.6 536.4,512.1 537.5,508.5 538.5,512.6 539.6,512.4 540.5,507.5 541.5,506.8 542.5,499.9 543.4,498.5 544.4,503.7 545.3,503.1 546.2,509.7 547.2,511.0 548.2,506.8 549.1,506.6 550.0,499.1 551.0,498.5 552.0,499.7 552.9,495.5 553.8,497.4 554.8,494.7 555.8,495.7 556.7,502.3 557.6,501.7 558.6,507.3 559.5,508.0 560.5,503.3 561.5,506.0 562.4,503.5 563.4,503.1 564.3,510.2 565.2,508.3 566.2,512.4 567.2,510.4 568.1,504.4 569.0,503.8 570.0,499.7 571.1,494.6 572.1,495.8 573.2,489.0 574.3,487.0 575.4,493.4 576.5,497.1 577.6,503.5 578.5,507.0 579.5,505.1 580.5,511.6 581.4,511.0 582.4,506.4 583.3,507.7 584.2,501.0 585.2,501.0 586.2,505.6 587.1,505.2 588.0,512.5 589.0,513.7 590.0,512.0 591.0,517.1 592.0,513.9 593.0,517.7 594.0,516.2 595.0,517.1 595.9,523.3 596.8,521.2 597.8,526.3 598.8,526.7 599.7,522.2 600.6,523.3 601.6,520.0 602.6,519.1 603.6,524.9 604.7,521.8 605.7,527.3 606.7,526.3 607.7,526.6 608.6,531.4 609.5,528.0 610.5,531.4 611.8,520.8 613.0,508.6 614.0,503.6 614.9,506.0 615.8,499.9 616.8,498.5 617.7,498.3 618.5,492.3 619.4,492.0 620.4,482.9 621.4,473.0 622.4,477.0 623.4,484.2 624.4,488.4 625.4,483.1 626.5,480.2 627.5,474.4 628.8,476.0 630.0,479.5 631.0,462.4 632.0,444.0 633.0,456.8 634.0,470.6 634.9,462.2 635.8,453.0 636.7,454.3 637.5,460.3 638.4,461.8 639.2,458.2 640.0,456.0 640.9,458.8 641.8,456.1 642.7,457.5 643.6,461.4 644.4,462.2 645.3,466.8 646.2,465.3 647.1,457.8 648.0,456.0 649.1,452.2 650.1,445.4 651.2,441.4 652.1,447.7 653.0,451.5 653.9,457.5 654.8,458.5 655.6,455.0 656.5,457.3 657.4,456.0 658.3,452.4 659.1,452.6 660.0,448.0 660.9,446.5 661.8,449.2 662.7,446.8 663.6,441.8 664.5,439.5 665.4,434.7 666.3,428.9 667.1,425.9 668.0,420.0 668.9,419.2 669.8,423.7 670.7,424.0 671.6,420.3 672.5,420.1 673.4,416.0 674.3,415.4 675.1,419.0 676.0,418.7 676.9,415.6 677.8,415.9 678.7,412.0 679.6,407.0 680.5,408.0 681.4,404.0 682.6,396.7 683.9,391.0 685.0,389.4 686.0,383.0 687.0,383.9 688.1,378.3 689.1,375.1 690.2,376.8 691.2,371.3 692.3,371.3 693.4,368.9 694.5,360.4 695.5,359.7 696.6,354.4 697.7,338.1 698.8,323.5 699.8,310.6 700.8,296.7 701.7,293.9 702.7,297.0 703.6,294.0 704.6,301.7 705.6,310.8 706.5,306.4 707.5,299.4 708.4,295.3 709.3,294.9 710.3,290.6 711.2,291.0 712.1,297.4 713.1,301.5 714.0,308.0 715.1,313.8 716.3,317.8 717.2,308.9 718.1,302.8 719.0,294.0 720.1,290.7 721.3,291.5 722.4,288.3 723.5,298.2 724.7,309.4 725.6,314.2 726.6,317.2 727.5,322.0 728.4,327.8 729.4,330.8 730.3,336.0 731.4,334.6 732.6,327.1 733.7,325.0 734.6,326.2 735.5,322.8 736.5,324.9 737.4,323.5 738.5,320.7 739.5,322.5 740.5,318.6 741.6,319.2 742.5,317.7 743.5,311.3 744.4,310.8 745.3,312.6 746.3,308.3 747.2,309.4 748.1,315.5 749.1,318.6 750.0,325.0 751.1,320.5 752.3,314.1 753.4,309.4 754.5,319.7 755.6,329.0 756.6,317.2 757.5,307.5 758.5,295.3 759.4,293.4 760.4,295.8 761.3,294.0 762.4,299.9 763.5,308.7 764.6,315.0 765.5,301.7 766.3,289.7 767.7,246.0 768.7,261.5 769.7,275.6 770.9,268.0 772.0,261.6 773.0,251.0 773.9,239.0 774.8,237.2 775.8,240.4 776.7,237.7 777.6,241.6 778.6,248.7 779.5,253.0 780.5,257.7 781.4,265.5 782.4,270.0 783.3,275.6 784.3,284.2 785.2,289.7 786.1,288.9 787.1,294.9 788.0,294.0 789.0,286.9 790.0,281.3 790.9,282.1 791.8,276.3 792.7,277.9 793.6,274.2 794.5,271.1 795.5,273.6 796.4,269.5 797.3,270.0 798.4,275.0 799.5,275.0 800.6,281.3 801.7,286.0 802.8,285.9 803.8,293.2 804.9,294.0 805.8,289.2 806.8,286.7 807.7,281.3 808.8,280.9 809.8,283.6 810.9,281.8 811.9,284.0 812.8,279.6 813.8,272.6 814.7,268.6 815.6,264.5 816.6,257.2 817.5,253.0 818.6,257.0 819.8,255.8 820.9,260.0 822.1,262.0 823.4,261.8 824.4,265.9 825.3,273.0 826.3,277.5 827.1,283.9 827.9,291.0 828.9,289.9 829.8,283.9 830.8,282.0 831.7,284.1 832.6,281.3 833.5,284.3 834.6,292.3 835.8,298.7 836.9,306.8 837.9,304.2 838.8,298.0 839.8,295.5 840.8,297.4 841.7,294.8 842.6,297.9 843.6,296.7 844.6,291.9 845.6,289.1 846.6,284.3 847.4,298.4 848.1,313.5 849.2,312.4 850.4,309.0 851.4,312.4 852.3,318.3 853.3,321.4 854.2,320.9 855.1,323.2 856.0,322.5 857.1,323.9 858.3,331.7 859.4,333.8 860.5,327.1 861.7,325.9 862.8,320.3 863.9,317.4 865.1,320.4 866.2,317.0 867.1,313.7 868.1,315.3 869.0,311.3 869.9,300.6 870.7,291.0 871.8,294.4 872.9,295.5 874.0,304.7 875.2,315.8 876.3,308.5 877.4,300.0 878.5,309.5 879.7,320.3 880.7,318.4 881.6,311.4 882.6,309.0 883.5,309.6 884.4,304.3 885.3,304.5 886.4,310.8 887.5,315.8 888.6,308.9 889.8,305.1 890.9,297.8 892.0,304.1 893.2,312.4 894.3,313.6 895.4,308.5 896.5,309.0 897.6,304.0 898.8,297.8 899.9,301.6 901.0,306.8 902.1,315.6 903.3,323.7 904.5,315.9 905.6,309.0 906.7,315.6 907.8,320.3 908.9,316.7 910.0,314.7 910.9,319.6 911.9,318.0 912.8,322.5 913.8,327.5 914.7,326.8 915.7,330.4 916.7,329.9 917.6,324.5 918.6,324.8 919.5,327.5 920.4,327.6 921.3,330.4 922.2,334.4 923.1,334.6 924.0,338.3 925.1,333.1 926.3,327.0 927.3,330.1 928.2,335.8 929.2,339.4 930.3,335.3 931.4,335.0 932.4,340.3 933.4,340.7 934.4,345.0 935.3,350.1 936.1,349.9 937.0,354.0 938.1,359.8 939.3,364.2 940.4,363.5 941.6,367.6 942.7,367.6 943.9,369.1 945.0,373.2 946.1,367.4 947.2,360.8 948.4,356.4 949.5,354.0 950.5,359.0 951.4,357.1 952.4,362.0 953.3,366.9 954.1,366.9 955.0,372.0 955.9,373.5 956.9,369.5 957.8,369.8 958.9,377.8 960.0,384.5 961.0,381.5 962.0,381.8 963.0,378.8 964.1,383.5 965.2,389.0 966.4,388.3 967.5,385.6 968.5,387.6 969.4,392.8 970.4,394.6 971.3,394.7 972.1,399.2 973.0,399.0 973.9,398.9 974.8,405.9 975.6,403.6 976.5,408.0 977.5,404.0 978.4,397.1 979.4,393.5 980.4,395.9 981.4,394.9 982.4,399.5 983.4,398.4 984.5,397.6 985.7,401.9 986.8,401.8 987.9,405.5 988.9,411.5 990.0,415.3 991.2,417.3 992.4,422.0 993.5,429.4 994.6,435.6 995.8,430.4 996.9,427.7 998.0,434.4 999.0,392.8 999.9,401.3 1000.7,408.5 1001.6,415.7 1002.5,424.3 1003.6,431.8 1004.8,437.8 1005.9,429.9 1007.0,423.2 1008.1,428.2 1009.3,431.0 1010.2,434.5 1011.1,441.2 1012.0,444.6 1013.0,446.3 1013.9,452.6 1014.9,453.6 1016.0,448.7 1017.0,446.8 1018.2,453.8 1019.4,459.2 1020.2,449.9 1021.0,441.2 1022.0,442.6 1022.9,439.2 1023.9,440.0 1025.0,446.1 1026.0,451.3 1027.2,442.1 1028.4,434.4 1029.4,437.9 1030.3,435.6 1031.3,439.0 1032.2,438.7 1033.1,432.6 1034.0,432.2 1035.1,435.8 1036.3,434.9 1037.4,437.8 1038.4,442.9 1039.3,441.6 1040.3,446.8 1041.2,451.9 1042.2,450.5 1043.1,456.2 1044.0,458.0 1044.9,452.9 1045.8,449.5 1046.6,443.5 1047.5,440.0 1048.7,448.1 1049.8,454.7 1050.9,453.1 1051.9,456.5 1053.0,453.6 1053.9,452.7 1054.8,459.4 1055.6,456.9 1056.5,460.3 1057.4,460.6 1058.2,456.8 1059.1,459.2 1060.0,455.8 1061.1,454.1 1062.2,458.0 1063.3,457.0 1064.2,450.2 1065.1,446.5 1066.0,440.0 1067.0,441.8 1068.0,448.4 1069.0,450.2 1070.0,447.0 1070.9,449.6 1071.9,446.8 1072.8,447.2 1073.7,452.3 1074.6,453.6 1075.5,449.4 1076.4,450.3 1077.3,446.8 1078.2,439.9 1079.0,434.4 1080.2,441.7 1081.3,448.0 1082.4,445.2 1083.6,444.6 1084.5,450.3 1085.4,453.6 1086.3,459.2 1087.3,459.4 1088.2,453.8 1089.2,454.7 1090.1,456.2 1091.1,453.4 1092.0,455.8 1093.2,454.1 1094.4,449.0 1095.5,444.6 1096.6,443.4 1097.5,446.8 1098.4,445.6 1099.3,449.0 1100.4,449.8 1101.6,445.8 1102.7,446.8 1103.7,451.1 1104.6,451.6 1105.6,455.8 1106.8,459.4 1107.9,460.3 1109.0,456.1 1110.0,453.6 1110.9,456.7 1111.9,454.8 1112.8,458.0 1113.9,458.6 1115.0,457.0 1116.2,463.8 1117.3,471.6 1118.4,470.8 1119.6,467.0 1120.5,466.8 1121.4,472.0 1122.3,472.7 1123.2,477.2 1124.0,482.8 1125.2,486.1 1126.3,486.2 1127.2,481.8 1128.1,483.6 1129.0,479.5 1130.0,474.7 1131.0,474.0 1132.0,469.3 1133.0,467.4 1133.9,471.4 1134.9,470.4 1135.8,466.2 1136.7,465.8 1137.6,460.3 1138.5,459.2 1139.4,461.6 1140.3,460.3 1141.3,455.1 1142.2,451.9 1143.2,446.8 1144.3,443.2 1145.5,445.3 1146.6,442.3 1147.7,440.3 1148.9,443.2 1150.0,441.2 1151.0,440.1 1151.9,444.4 1152.9,444.6 1153.8,438.9 1154.7,435.4 1155.6,430.0 1156.5,425.7 1157.4,423.3 1158.3,418.7 1159.3,419.1 1160.2,423.4 1161.2,424.3 1162.1,421.4 1163.1,424.4 1164.0,421.0 1165.1,419.7 1166.2,424.2 1167.3,423.2 1168.3,420.3 1169.2,424.1 1170.2,421.0 1171.3,424.6 1172.5,430.0 1173.5,429.5 1174.4,423.7 1175.4,424.3 1176.3,423.4 1177.1,417.2 1178.0,415.3 1178.9,416.6 1179.8,411.3 1180.6,414.7 1181.5,412.0 1182.6,411.7 1183.8,417.5 1184.9,417.5 1185.8,416.7 1186.7,419.4 1187.6,418.7 1188.7,422.8 1189.8,427.7 1190.8,426.3 1191.8,419.8 1192.8,417.5 1193.8,412.8 1194.7,405.5 1195.7,400.7 1196.5,406.2 1197.3,410.8 1198.4,415.5 1199.5,422.0 1200.6,418.1 1201.6,411.7 1202.7,407.8 1203.7,408.2 1204.6,404.3 1205.6,404.4 1206.8,406.0 1207.9,405.6 1209.0,400.9 1210.0,398.8 1211.0,404.1 1212.0,403.7 1213.0,407.8 1213.9,409.4 1214.9,404.4 1215.8,405.6 1216.7,406.9 1217.6,404.4 1218.5,406.7 1219.5,407.1 1220.4,402.7 1221.4,403.3 1222.5,409.3 1223.6,414.6 1224.8,419.5 1225.9,425.8 1227.0,433.2 1228.0,439.3 1229.0,434.4 1230.0,435.9 1231.0,431.4 1231.9,429.4 1232.9,433.4 1233.8,431.4 1234.9,433.3 1236.0,437.0 1236.9,436.4 1237.8,432.5 1238.7,432.6 1239.7,434.9 1240.7,433.7 1241.7,436.0 1242.7,440.4 1243.6,440.2 1244.6,445.0 1245.5,446.0 1246.4,441.7 1247.3,442.7 1248.4,448.5 1249.5,450.6 1250.7,447.5 1251.8,446.0 1252.9,451.2 1254.0,455.0 1255.2,450.3 1256.3,447.2 1257.2,455.1 1258.0,461.8 1258.9,461.8 1259.9,465.9 1260.8,466.3 1261.9,462.4 1263.0,460.7 1263.9,461.4 1264.8,456.9 1265.7,457.3 1266.6,455.5 1267.5,450.6 1268.7,453.9 1269.8,459.6 1270.7,464.0 1271.6,466.0 1272.5,470.8 1273.5,468.9 1274.4,462.3 1275.4,459.6 1276.6,464.7 1277.7,466.3 1278.8,467.4 1280.0,470.8 1281.0,475.5 1281.9,473.4 1282.9,477.6 1283.8,481.1 1284.7,478.4 1285.6,482.0 1286.4,481.5 1287.3,479.0 1288.2,474.6 1289.0,473.0 1290.0,474.7 1290.9,473.1 1291.9,475.3 1292.8,476.6 1293.7,472.9 1294.6,473.0 1295.5,471.8 1296.4,464.7 1297.3,464.0 1298.3,463.0 1299.2,455.7 1300.2,455.0 1301.1,455.2 1302.1,451.8 1303.0,452.8 1303.9,452.7 1304.9,447.5 1305.8,447.2 1306.7,445.3 1307.6,438.4 1308.5,437.0 1309.5,441.9 1310.4,443.6 1311.4,448.3 1312.6,443.4 1313.7,437.0 1314.7,436.1 1315.6,442.3 1316.6,441.6 1317.5,436.9 1318.4,434.7 1319.3,430.3 1320.4,423.9 1321.6,421.3 1322.5,418.0 1323.4,413.2 1324.3,410.0 1325.4,405.2 1326.5,398.8 1327.7,392.4 1328.8,389.8 1329.9,382.5 1331.0,374.0 1331.9,365.4 1332.8,358.3 1333.7,353.5 1334.6,348.0 1335.8,348.8 1336.9,352.6 1338.0,351.0 1339.0,348.0 1339.9,348.7 1340.9,353.0 1341.8,353.8 1342.9,350.9 1344.0,349.3 1345.2,348.9 1346.3,346.0 1347.4,342.9 1348.6,342.5 1349.5,336.7 1350.4,330.0 1351.2,336.9 1352.0,344.8 1352.8,354.6 1353.5,364.0 1354.7,371.7 1355.8,380.8 1356.9,373.1 1358.0,364.0 1359.2,371.8 1360.3,380.8 1361.4,378.7 1362.5,373.0 1363.5,364.1 1364.4,356.0 1365.2,350.8 1366.0,344.8 1367.2,349.2 1368.4,355.0 1369.6,352.7 1370.7,348.0 1371.8,350.1 1372.9,356.0 1373.8,355.5 1374.7,349.9 1375.6,349.3 1376.5,353.4 1377.4,352.9 1378.3,357.0 1379.4,356.7 1380.6,352.6 1381.7,356.3 1382.8,361.7 1383.8,361.0 1384.7,355.3 1385.7,353.8 1386.7,356.1 1387.7,353.5 1388.7,355.0 1389.8,349.3 1391.0,342.5 1392.1,348.9 1393.2,356.0 1394.1,355.2 1395.0,348.4 1395.9,348.0 1396.8,349.5 1397.7,345.6 1398.6,347.0 1399.6,345.0 1400.5,338.7 1401.5,337.0 1402.7,334.8 1403.8,330.0 1404.9,325.5 1406.0,323.4 1407.2,328.4 1408.3,331.3 1409.4,328.1 1410.5,326.8 1411.2,325.6 1412.0,322.3 1413.2,326.4 1414.3,332.4 1415.4,335.9 1416.6,335.8 1417.6,332.8 1418.5,334.5 1419.5,332.4 1420.5,329.9 1421.4,332.4 1422.4,329.0 1423.3,325.7 1424.1,328.3 1425.0,325.6 1426.0,319.5 1427.0,314.6 1428.1,321.6 1429.2,327.0 1430.3,325.3 1431.5,328.3 1432.6,325.8 1433.7,326.1 1434.9,331.9 1436.0,331.4 1437.0,329.1 1438.0,332.1 1439.0,327.6 1440.0,328.8 1440.9,329.3 1441.8,325.0 1442.7,325.4 1443.7,328.2 1444.6,324.0 1445.6,326.5 1446.7,327.0 1447.9,322.4 1449.0,323.0 1449.9,327.1 1450.8,324.9 1451.7,328.8 1452.7,328.1 1453.6,321.1 1454.6,320.9 1455.8,328.1 1456.9,334.4 1457.9,332.2 1458.8,335.6 1459.8,333.3 1460.7,332.9 1461.6,337.8 1462.5,336.6 1463.4,333.2 1464.3,335.8 1465.2,333.3 1466.1,333.3 1467.1,339.1 1468.0,338.9 1468.9,337.9 1469.8,342.7 1470.6,340.0 1471.5,343.4 1472.6,344.5 1473.8,341.5 1474.9,342.3 1476.0,347.1 1477.0,349.0 1477.9,345.3 1478.8,347.3 1479.6,342.2 1480.5,342.3 1481.4,346.9 1482.3,344.7 1483.2,349.0 1484.3,349.1 1485.5,346.8 1486.5,347.4 1487.4,354.6 1488.4,355.8 1489.4,352.8 1490.3,354.7 1491.3,351.3 1492.2,347.4 1493.1,349.7 1494.0,345.6 1495.1,341.0 1496.3,342.4 1497.4,337.8 1498.5,339.4 1499.6,343.4 1500.6,345.5 1501.6,344.0 1502.6,346.8 1503.6,349.8 1504.7,348.0 1505.7,352.4 1506.7,353.1 1507.6,348.9 1508.6,350.0 1509.6,354.4 1510.6,353.4 1511.6,356.9 1512.5,358.2 1513.4,354.1 1514.3,354.6 1515.4,357.5 1516.5,356.5 1517.6,360.3 1518.6,361.1 1519.6,356.3 1520.6,358.0 1521.5,362.1 1522.4,362.3 1523.3,365.9 1524.4,368.0 1525.5,367.2 1526.6,369.3 1527.7,370.3 1528.9,365.6 1530.0,367.0 1530.9,369.4 1531.8,368.7 1532.7,371.5 1533.7,375.4 1534.6,373.7 1535.6,378.3 1536.6,377.4 1537.6,369.0 1538.6,368.0 1539.5,372.5 1540.4,371.6 1541.3,376.0 1542.2,377.9 1543.1,375.8 1544.0,378.3 1545.0,377.2 1545.9,372.4 1546.9,371.5 1547.9,374.1 1548.8,370.4 1549.8,372.6 1550.7,371.9 1551.6,365.9 1552.5,364.8 1553.6,367.2 1554.8,365.2 1555.9,368.0 1557.0,368.8 1558.2,364.5 1559.3,364.8 1560.4,367.9 1561.5,363.7 1562.6,367.0 1563.6,366.3 1564.6,361.9 1565.6,361.4 1566.6,362.9 1567.7,357.7 1568.7,359.0 1569.7,361.4 1570.6,359.5 1571.6,362.5 1572.6,366.8 1573.6,366.1 1574.6,371.5 1575.5,375.0 1576.4,373.6 1577.3,377.0 1578.4,375.1 1579.5,371.5 1580.4,372.7 1581.3,378.3 1582.2,379.4 1583.5,371.5 1584.7,364.8 1585.5,370.7 1586.3,376.0"/>
<polyline class="ln" stroke="#02205e" points="130.3,396.0 131.1,391.7 131.9,388.0 132.9,393.6 133.9,396.0 134.9,391.1 135.8,389.0 136.6,390.7 137.4,391.0 138.4,387.3 139.4,386.0 140.4,389.6 141.4,391.0 142.6,387.0 143.7,386.0 144.7,381.9 145.7,376.3 146.8,373.5 148.0,372.3 149.0,370.5 150.0,367.4 151.0,371.6 152.0,377.3 153.0,375.9 154.0,372.3 155.0,373.3 156.0,377.3 156.9,374.9 157.9,371.4 158.9,369.8 159.9,370.4 160.9,366.6 161.8,361.5 162.8,355.7 163.8,350.7 164.8,354.3 165.8,354.6 166.8,349.9 167.7,346.7 168.5,353.4 169.3,359.5 170.5,381.2 171.7,349.7 172.8,327.0 173.6,351.4 174.4,376.3 175.6,319.6 176.5,296.3 177.4,272.0 178.3,270.3 179.2,246.3 180.1,223.7 180.9,241.0 181.8,257.5 182.6,248.5 183.4,240.1 184.3,302.2 185.2,287.2 186.0,271.2 187.4,301.3 188.4,325.2 189.4,349.7 190.2,359.9 191.0,369.4 192.2,360.9 193.3,353.6 194.3,359.6 195.3,364.5 196.3,369.0 197.3,374.3 198.6,380.3 199.8,384.2 200.7,388.2 201.5,394.1 202.4,398.0 203.4,400.0 204.4,403.8 205.6,405.1 207.0,416.4 207.9,418.4 208.9,419.2 209.8,414.8 210.6,413.0 211.8,420.5 212.9,426.5 214.0,420.4 215.1,415.8 216.2,422.7 217.4,428.7 218.3,425.0 219.3,428.3 220.2,424.8 221.1,424.3 222.1,427.3 223.0,426.5 223.9,422.6 224.9,424.7 225.8,420.9 226.9,422.9 228.1,428.7 229.2,437.2 230.3,444.5 231.4,433.5 232.6,424.2 234.0,420.3 234.9,425.2 235.9,427.6 236.8,425.9 237.8,428.6 238.7,426.5 239.8,425.8 241.0,428.7 241.9,428.1 242.9,421.5 243.8,420.3 244.7,424.1 245.7,423.5 246.6,426.5 247.5,426.4 248.5,421.8 249.4,422.6 250.2,424.1 251.1,423.7 252.1,419.0 253.1,415.2 254.1,420.6 255.0,424.8 256.0,422.4 256.9,426.0 257.9,423.7 258.8,421.7 259.8,424.1 260.7,422.0 261.8,421.3 262.9,423.1 264.0,422.3 265.2,418.0 266.1,416.7 267.1,420.3 268.0,419.2 269.1,420.2 270.2,423.7 271.0,427.6 271.9,431.0 272.8,434.4 273.6,438.3 274.8,437.1 275.9,432.7 276.8,429.9 277.8,433.8 278.7,431.6 279.8,434.1 280.9,438.9 281.8,441.2 282.6,442.2 283.5,437.0 284.3,432.7 285.5,431.0 286.6,425.4 287.4,431.8 288.2,439.4 289.4,435.3 290.5,429.9 291.6,428.2 292.7,429.9 293.9,433.4 295.0,434.9 295.9,433.1 296.9,436.9 297.8,434.4 298.7,433.7 299.5,437.7 300.4,437.2 301.5,424.2 302.6,415.2 304.0,417.5 305.2,424.7 306.4,433.0 307.3,436.1 308.3,433.0 309.2,437.7 310.2,438.0 311.4,431.1 312.7,428.0 313.6,433.4 314.6,431.9 315.6,439.6 316.5,440.6 317.4,435.5 318.4,436.7 319.4,430.2 320.3,429.2 321.6,438.1 322.8,445.6 323.8,439.6 324.9,435.9 325.9,429.2 327.0,436.7 328.1,446.7 329.2,454.5 330.1,449.9 331.1,450.5 332.1,444.4 333.0,443.0 333.9,443.2 334.9,438.7 335.9,441.2 336.8,438.0 337.8,435.4 338.7,438.4 339.7,435.2 340.6,435.5 341.6,439.3 342.5,439.3 343.4,445.0 344.4,445.6 345.6,439.2 346.9,436.8 347.8,442.2 348.8,440.8 349.8,448.5 350.7,449.4 351.7,446.8 352.7,449.2 353.7,445.6 354.8,440.6 355.9,440.8 357.0,436.8 357.9,440.6 358.7,445.6 359.6,449.4 360.8,455.5 362.0,463.4 362.9,465.4 363.7,464.1 364.6,465.9 365.6,472.6 366.5,476.6 367.4,483.5 368.4,488.7 369.3,486.2 370.3,488.0 371.2,483.7 372.2,483.6 373.1,484.6 374.1,480.8 375.1,484.3 376.0,482.3 376.9,479.6 377.9,481.5 378.9,477.6 379.8,477.3 380.8,482.0 381.7,482.0 382.7,488.1 383.6,490.0 384.6,489.7 385.6,494.1 386.6,492.5 387.5,490.1 388.3,491.9 389.2,490.0 390.3,494.5 391.4,502.1 392.5,506.4 393.4,507.4 394.4,511.1 395.4,510.9 396.3,514.0 397.3,514.9 398.3,510.3 399.3,510.2 400.3,516.6 401.3,521.6 402.2,522.4 403.2,529.1 404.2,528.9 405.1,533.0 406.0,536.5 406.8,533.6 407.7,536.8 408.9,542.6 410.2,546.9 411.4,551.4 412.7,557.0 413.6,556.2 414.4,550.6 415.3,549.4 416.6,554.8 417.8,557.0 418.8,553.6 419.7,555.2 420.7,550.3 421.6,549.4 422.6,550.1 423.6,545.3 424.6,549.5 425.6,544.9 426.6,545.6 427.6,546.7 428.5,541.7 429.4,544.3 430.4,540.6 431.3,538.7 432.3,542.8 433.2,540.2 434.2,541.8 435.1,544.0 436.1,542.0 437.1,546.6 438.0,546.9 438.9,544.9 439.9,550.1 440.9,546.0 441.8,548.2 442.7,551.9 443.6,550.9 444.6,558.3 445.5,556.2 446.4,560.8 447.4,560.0 448.4,554.2 449.4,553.2 450.3,553.7 451.3,550.0 452.2,552.4 453.2,549.4 454.1,548.7 455.1,552.5 456.1,551.2 457.0,553.2 457.9,554.9 458.9,551.2 459.9,554.1 460.8,552.0 461.8,547.0 462.7,547.4 463.7,539.1 464.6,538.0 465.6,541.8 466.5,542.5 467.4,548.0 468.4,549.4 469.3,543.6 470.1,541.1 471.0,535.5 471.8,535.3 472.5,536.5 473.8,540.7 475.0,542.8 476.0,538.2 476.9,540.1 477.9,532.7 478.9,532.7 480.0,530.4 481.1,522.7 482.2,521.3 483.2,526.7 484.2,526.3 485.2,531.4 486.1,527.6 487.1,520.5 488.1,517.2 489.0,511.0 489.9,512.5 490.9,517.3 491.9,516.3 492.8,521.3 493.8,520.5 494.8,515.0 495.8,517.0 496.8,510.7 497.8,511.0 498.8,515.7 499.7,515.9 500.7,522.0 501.6,523.8 502.6,522.7 503.5,528.3 504.4,525.1 505.4,528.9 506.3,529.1 507.3,523.3 508.2,524.1 509.2,520.0 510.1,520.5 511.1,524.1 512.0,523.7 513.0,526.3 514.0,527.7 515.0,522.1 516.0,525.6 517.0,520.8 518.0,521.3 519.0,525.4 520.0,523.4 520.9,529.4 521.9,530.0 523.0,525.0 524.0,525.0 525.1,519.6 526.2,517.5 527.2,521.1 528.2,519.5 529.3,526.0 530.3,526.3 531.2,529.5 532.0,536.0 532.9,538.9 533.8,544.0 534.9,540.1 535.9,532.8 537.0,528.9 538.0,531.1 539.0,529.4 539.9,533.8 540.9,534.0 541.9,530.6 542.8,531.9 543.8,526.3 544.7,525.0 545.7,529.8 546.6,532.0 547.5,538.2 548.5,541.5 549.5,537.1 550.4,534.5 551.3,529.4 552.3,526.3 553.2,529.7 554.1,527.8 555.1,532.6 556.0,531.4 557.1,525.8 558.2,525.7 559.3,516.7 560.4,515.0 561.4,519.8 562.3,522.5 563.2,528.2 564.2,531.4 565.3,527.4 566.4,527.5 567.5,522.5 568.8,526.1 570.0,531.4 571.1,525.8 572.1,518.1 573.2,514.0 574.3,507.3 575.4,507.9 576.5,514.1 577.6,515.0 578.6,518.5 579.6,523.9 580.6,527.6 581.7,520.9 582.8,521.7 583.9,515.0 584.9,515.3 585.8,521.7 586.8,522.2 587.7,526.3 588.7,529.9 589.6,526.9 590.5,532.9 591.5,532.7 592.5,534.4 593.6,542.3 594.6,544.0 595.7,548.0 596.7,554.2 597.8,558.0 598.8,554.3 599.7,554.8 600.6,550.2 601.6,549.0 602.5,553.9 603.5,553.4 604.5,561.2 605.4,563.0 606.4,557.5 607.3,558.0 608.2,550.0 609.2,549.0 610.2,548.7 611.1,543.8 612.0,544.8 613.0,541.5 614.0,542.3 614.9,548.3 615.8,545.8 616.8,550.4 617.9,545.1 619.0,537.6 620.0,533.2 621.1,526.3 622.2,527.8 623.3,535.0 624.4,536.5 625.4,531.4 626.3,529.8 627.2,523.8 628.2,521.3 629.2,515.5 630.1,507.7 631.0,502.8 632.0,496.0 632.9,494.7 633.7,496.9 634.6,494.7 635.8,504.3 637.0,515.0 638.0,518.1 639.0,515.0 640.0,517.6 640.9,525.8 641.8,531.3 642.7,539.0 643.6,545.5 644.4,549.6 645.3,556.3 646.2,551.0 647.1,543.6 648.0,539.0 649.1,539.3 650.1,535.0 651.2,536.3 652.1,542.3 653.0,544.5 653.8,551.1 654.7,555.0 655.6,554.6 656.5,558.1 657.3,554.6 658.2,557.7 659.1,561.6 659.9,560.9 660.8,565.7 661.7,569.8 662.6,569.7 663.5,575.0 664.5,568.0 665.4,560.3 666.3,549.9 667.1,541.8 668.0,531.0 668.9,529.4 669.8,534.7 670.6,530.6 671.5,533.6 672.4,543.9 673.3,551.4 674.2,561.7 675.1,552.9 676.0,542.2 676.9,533.6 677.8,524.7 678.7,515.0 679.7,523.6 680.6,533.6 681.7,525.0 682.8,515.0 683.7,511.2 684.5,510.5 685.4,507.0 686.3,501.9 687.1,499.9 688.0,494.9 688.9,498.9 689.9,505.6 690.8,509.6 691.7,509.4 692.5,514.7 693.4,515.0 694.3,515.8 695.1,520.7 696.0,521.6 697.0,528.5 698.0,536.3 699.3,507.0 700.1,496.5 701.0,485.5 701.9,480.6 702.7,480.6 703.6,476.0 704.5,464.8 705.5,454.8 706.4,459.7 707.3,464.0 708.4,451.4 709.5,440.0 710.5,427.8 711.6,414.7 712.5,418.3 713.5,422.7 714.5,427.8 715.4,432.0 716.5,420.5 717.5,410.7 718.3,393.8 719.0,374.0 720.1,384.5 721.3,393.8 722.3,382.0 723.3,371.3 724.3,366.3 725.3,360.0 726.2,355.7 727.1,352.9 728.0,348.8 729.1,353.7 730.3,360.0 731.5,365.6 732.6,369.9 733.5,361.5 734.5,355.7 735.4,347.4 736.3,349.2 737.3,356.9 738.2,358.6 739.3,357.8 740.5,361.3 741.6,360.0 742.5,363.0 743.5,368.1 744.4,371.3 745.3,366.8 746.3,364.6 747.2,360.0 748.1,359.6 749.1,366.1 750.0,365.7 751.1,375.0 752.3,385.3 753.2,373.3 754.2,360.0 755.1,360.0 756.1,362.8 757.0,362.8 758.0,351.0 759.0,340.3 760.1,343.5 761.3,343.0 762.4,353.9 763.5,365.7 764.5,380.5 765.5,393.8 766.9,351.6 768.0,324.7 769.1,299.5 770.1,307.7 771.1,315.0 772.0,310.3 773.0,311.6 773.9,306.6 774.9,303.5 775.9,302.4 777.0,307.4 778.1,309.4 779.2,306.3 780.4,306.6 781.5,315.8 782.6,323.5 783.5,313.5 784.3,306.7 785.2,296.7 786.1,293.4 787.1,296.7 788.0,294.0 789.0,298.5 790.0,303.8 790.8,307.7 791.6,310.8 793.0,280.0 794.3,251.0 795.1,255.8 796.0,261.3 796.9,254.2 797.7,246.0 798.8,252.4 799.9,260.4 801.0,254.4 802.0,247.8 803.0,243.0 804.0,241.0 804.9,247.5 805.7,252.8 806.5,238.0 807.3,224.0 808.1,228.8 809.0,232.6 810.0,221.2 810.9,210.6 811.6,223.8 812.4,236.0 813.5,227.1 814.6,219.0 815.5,221.4 816.3,220.8 817.1,226.1 818.0,232.6 818.9,223.9 819.7,214.0 820.5,220.4 821.4,227.5 822.5,232.6 823.5,234.3 824.7,236.1 825.9,241.9 827.0,235.1 828.0,227.5 828.9,218.4 829.8,210.6 830.6,191.2 831.7,198.4 832.7,203.9 833.5,196.2 834.3,189.5 835.1,193.6 836.0,195.4 836.9,188.2 837.7,182.0 838.8,193.0 839.9,202.2 840.8,193.0 841.6,185.3 842.7,187.3 843.8,187.0 844.8,184.2 845.8,184.5 846.6,177.7 847.5,170.0 848.4,179.0 849.2,188.7 850.0,195.0 850.9,200.5 851.8,195.9 852.6,192.0 853.5,195.1 854.3,195.4 855.3,199.7 856.3,205.6 857.1,209.6 858.0,212.3 859.3,220.8 860.3,212.9 861.4,206.4 862.2,211.5 863.0,215.7 864.4,209.0 865.6,225.0 866.9,210.6 867.8,201.9 868.6,193.8 869.5,182.3 870.3,170.0 871.1,183.1 872.0,197.0 873.4,160.8 874.3,171.6 875.2,181.0 876.3,191.2 877.1,181.3 878.0,172.0 878.9,167.8 879.7,163.0 880.5,172.2 881.2,182.2 882.4,175.2 883.5,167.5 884.4,155.7 885.3,145.0 886.1,139.3 886.9,132.6 887.8,134.6 888.7,139.4 889.8,136.9 890.9,132.6 892.0,139.4 893.2,147.3 894.0,151.1 894.7,154.0 895.9,147.9 897.0,142.8 897.9,135.5 898.8,127.0 899.7,131.1 900.6,136.0 901.5,142.8 902.4,148.4 903.4,133.4 904.4,119.8 905.5,126.0 906.7,130.4 907.5,135.9 908.3,142.8 909.1,136.6 910.0,129.3 911.1,134.2 912.3,140.5 913.5,147.1 914.6,151.8 915.7,156.6 916.8,163.0 917.9,158.7 919.0,153.0 920.0,146.3 920.9,140.5 921.6,135.8 922.4,130.4 923.2,133.4 924.0,137.0 924.9,146.2 925.8,154.0 926.7,147.5 927.6,141.7 928.8,149.2 929.9,155.0 931.0,152.7 932.0,153.0 933.2,159.5 934.4,162.0 935.5,156.9 936.6,155.0 937.8,159.3 938.9,159.7 939.7,156.2 940.5,154.0 941.6,160.8 942.7,166.4 943.9,174.1 945.0,183.3 945.9,185.3 946.8,185.6 947.5,175.0 948.3,165.3 949.1,156.7 950.0,147.3 951.2,147.6 952.4,150.7 953.2,148.8 954.0,146.0 955.1,150.5 956.2,156.3 957.0,156.5 957.8,155.0 959.0,172.0 959.9,161.5 960.7,151.8 961.5,160.1 962.3,167.5 963.1,158.5 964.0,150.7 965.1,153.9 966.3,154.0 967.1,160.3 968.0,167.5 969.2,171.4 970.4,172.0 971.2,174.0 972.0,177.7 973.1,179.2 974.2,178.8 975.0,169.6 975.8,160.8 976.7,161.1 977.6,159.7 978.7,153.9 979.8,149.5 980.9,154.9 982.0,158.5 983.2,161.2 984.4,167.5 985.5,167.7 986.6,165.3 987.8,161.1 988.9,160.8 990.0,163.7 991.0,164.2 992.2,165.1 993.4,169.8 994.5,177.1 995.6,183.3 996.8,185.6 997.9,191.2 999.0,158.5 1000.1,169.6 1001.2,178.8 1002.0,180.8 1002.8,184.4 1003.7,186.8 1004.6,187.8 1005.5,175.4 1006.4,164.2 1007.2,167.4 1008.0,168.7 1008.8,177.8 1009.6,187.8 1010.7,196.6 1011.8,204.7 1012.7,195.8 1013.6,187.8 1014.5,195.0 1015.4,201.3 1016.2,191.9 1017.0,183.3 1018.1,185.0 1019.2,183.3 1020.0,171.5 1020.8,160.8 1022.2,154.0 1023.0,162.5 1023.8,169.8 1024.5,163.5 1025.3,158.5 1026.7,175.4 1027.5,164.2 1028.3,151.8 1029.0,162.1 1029.8,173.2 1030.8,175.0 1031.8,170.4 1032.8,172.0 1033.9,172.4 1035.0,169.8 1035.8,162.5 1036.6,156.3 1037.5,164.1 1038.4,170.9 1039.3,161.9 1040.2,154.0 1041.3,152.7 1042.4,148.4 1043.2,149.4 1044.0,153.0 1045.2,146.5 1046.3,138.3 1047.4,129.5 1048.5,122.5 1049.7,128.7 1050.8,131.5 1051.9,129.3 1053.0,130.4 1054.2,127.4 1055.3,121.4 1056.2,129.4 1057.2,138.3 1058.3,143.2 1059.5,146.0 1060.5,149.5 1061.4,156.3 1062.4,159.7 1063.5,160.0 1064.6,163.0 1065.4,157.7 1066.2,151.8 1067.3,158.8 1068.5,167.5 1069.6,171.6 1070.7,173.2 1071.7,169.3 1072.6,169.6 1073.6,166.4 1074.6,162.0 1075.6,163.3 1076.6,158.5 1077.7,146.5 1078.8,135.6 1079.6,149.2 1080.4,162.0 1081.5,161.0 1082.6,163.0 1083.4,167.3 1084.2,171.0 1085.3,177.6 1086.5,185.6 1087.4,180.7 1088.3,174.3 1089.2,176.5 1090.0,181.0 1091.2,186.2 1092.3,189.0 1093.4,183.4 1094.6,181.0 1095.7,180.8 1096.8,177.7 1097.9,173.9 1099.0,172.0 1100.2,169.1 1101.3,164.2 1102.4,162.9 1103.6,165.3 1104.7,172.0 1105.8,177.7 1106.9,181.8 1108.0,186.7 1109.2,190.7 1110.3,191.2 1111.2,188.1 1112.1,189.6 1113.0,186.7 1114.2,184.2 1115.3,184.4 1116.4,192.5 1117.5,199.0 1118.7,196.4 1119.8,195.7 1120.7,204.5 1121.6,210.5 1122.5,219.3 1123.4,212.7 1124.3,204.7 1125.4,212.1 1126.5,220.5 1127.4,219.3 1128.4,213.2 1129.3,211.4 1130.4,216.7 1131.5,219.3 1132.4,217.4 1133.3,217.0 1134.2,222.1 1135.0,226.0 1136.2,214.4 1137.4,204.7 1138.5,203.5 1139.6,200.2 1140.8,197.5 1141.9,196.8 1142.8,191.6 1143.7,183.1 1144.6,177.7 1145.5,184.1 1146.4,189.0 1147.5,185.4 1148.6,183.3 1149.8,186.9 1150.9,186.7 1152.0,189.3 1153.0,194.6 1154.2,186.1 1155.4,176.5 1156.3,171.7 1157.1,169.3 1158.0,164.2 1159.0,175.9 1159.9,189.0 1161.0,179.8 1162.0,169.8 1163.2,164.0 1164.4,159.7 1165.5,164.5 1166.6,167.5 1167.8,161.6 1168.9,159.7 1170.0,164.2 1171.0,166.4 1171.8,161.7 1172.7,159.7 1173.5,171.5 1174.3,182.2 1175.4,174.1 1176.5,167.5 1177.7,165.2 1178.8,160.8 1179.9,156.1 1181.0,154.0 1181.9,158.1 1182.8,160.8 1183.7,156.7 1184.6,154.0 1185.8,160.5 1186.9,165.3 1187.8,166.2 1188.7,171.7 1189.6,172.0 1190.7,165.9 1191.8,160.8 1192.9,155.4 1194.0,148.4 1194.8,141.6 1195.7,136.0 1196.6,152.2 1197.5,167.5 1198.2,176.3 1199.0,185.6 1200.2,176.6 1201.3,166.4 1202.4,169.1 1203.5,174.3 1204.7,167.4 1205.8,159.7 1206.7,165.5 1207.6,172.0 1208.5,168.4 1209.4,164.2 1210.5,168.5 1211.6,174.3 1212.8,180.1 1213.9,182.2 1215.0,174.4 1216.0,167.5 1216.8,169.2 1217.7,169.8 1218.6,162.4 1219.5,156.3 1220.5,162.7 1221.6,167.5 1222.5,169.4 1223.4,174.3 1224.3,183.9 1225.2,192.3 1226.0,198.7 1226.7,205.8 1227.6,210.0 1228.5,211.4 1229.2,216.8 1230.0,222.7 1231.0,212.7 1231.9,201.3 1232.7,196.5 1233.5,192.3 1234.6,204.7 1235.7,216.0 1236.8,210.2 1238.0,205.8 1239.1,209.2 1240.2,210.3 1241.3,206.6 1242.5,204.7 1243.6,211.3 1244.7,217.0 1245.5,223.2 1246.3,230.6 1247.4,235.2 1248.6,237.3 1249.7,239.3 1250.8,244.0 1251.7,248.2 1252.6,250.8 1253.4,255.6 1254.3,261.7 1255.4,269.6 1256.6,276.3 1257.5,274.9 1258.4,279.2 1259.3,277.4 1260.2,272.1 1261.1,272.3 1262.0,268.4 1263.0,265.1 1263.9,268.4 1264.9,265.0 1266.0,265.7 1267.0,268.4 1268.2,262.8 1269.4,256.0 1270.6,252.9 1271.7,252.6 1272.8,259.7 1273.9,265.0 1275.0,261.6 1276.0,260.5 1277.2,269.4 1278.4,276.3 1279.6,284.5 1280.7,294.3 1281.8,299.8 1282.9,304.4 1284.0,309.7 1285.0,316.8 1286.2,318.6 1287.4,319.0 1288.6,324.2 1289.7,330.3 1290.8,330.1 1291.9,327.0 1293.0,332.8 1294.0,339.3 1294.9,341.7 1295.8,339.9 1296.6,343.5 1297.5,342.7 1298.4,334.9 1299.3,330.3 1300.2,322.4 1301.3,327.1 1302.5,332.6 1303.5,335.0 1304.4,333.3 1305.4,337.0 1306.6,331.2 1307.7,324.7 1308.7,321.9 1309.6,322.8 1310.6,320.2 1311.8,315.4 1312.9,312.3 1313.7,307.5 1314.4,302.2 1315.6,304.6 1316.7,310.0 1317.5,315.1 1318.3,319.0 1319.4,308.7 1320.5,300.0 1321.7,299.5 1322.8,295.4 1323.8,290.3 1324.7,287.9 1325.7,283.0 1326.8,276.7 1327.9,271.8 1329.1,266.6 1330.2,259.4 1331.3,263.7 1332.4,269.5 1333.3,259.8 1334.2,249.3 1335.2,256.3 1336.3,264.0 1337.4,266.3 1338.5,265.0 1339.7,261.3 1340.8,260.5 1341.8,265.4 1342.7,265.4 1343.7,270.7 1344.8,270.4 1346.0,267.3 1347.1,261.5 1348.2,257.0 1349.3,257.3 1350.5,256.0 1351.6,278.5 1352.5,290.4 1353.4,303.3 1354.5,307.3 1355.6,309.0 1356.8,297.2 1357.9,286.4 1359.0,295.7 1360.0,303.3 1361.2,297.5 1362.4,294.3 1363.5,290.0 1364.6,284.2 1365.8,280.3 1366.9,279.7 1367.8,288.2 1368.7,293.7 1369.6,302.2 1370.7,297.9 1371.8,292.0 1372.9,289.9 1374.0,289.8 1375.2,296.3 1376.3,298.8 1377.2,292.3 1378.0,286.4 1379.2,293.6 1380.4,298.8 1381.5,291.7 1382.6,286.4 1383.5,285.9 1384.4,280.2 1385.3,278.5 1386.4,282.7 1387.6,285.3 1388.5,280.7 1389.4,277.4 1390.5,289.3 1391.6,300.0 1392.8,290.4 1393.9,282.0 1395.0,287.4 1396.0,291.0 1397.2,285.5 1398.4,280.8 1399.6,284.4 1400.7,285.3 1401.6,281.5 1402.5,281.8 1403.4,278.5 1404.5,274.6 1405.6,273.0 1406.5,277.7 1407.4,279.4 1408.3,284.2 1409.3,281.7 1410.2,275.7 1411.2,274.0 1412.1,277.3 1413.1,276.4 1414.0,280.8 1415.0,280.3 1415.9,276.9 1416.9,276.3 1418.0,277.5 1419.1,273.4 1420.2,275.2 1421.1,275.0 1422.1,271.1 1423.0,270.7 1424.2,277.0 1425.4,279.7 1426.3,268.3 1427.2,258.3 1428.2,268.6 1429.2,277.4 1430.3,279.7 1431.5,284.2 1432.6,283.7 1433.7,280.8 1434.7,281.3 1435.7,286.4 1436.7,286.4 1437.6,281.7 1438.5,281.0 1439.4,276.3 1440.5,271.9 1441.6,270.7 1442.5,272.6 1443.4,271.4 1444.4,270.7 1445.3,274.7 1446.3,274.8 1447.4,269.4 1448.4,269.7 1449.5,264.6 1450.5,264.0 1451.4,270.5 1452.4,270.3 1453.5,266.9 1454.6,266.9 1455.8,273.9 1456.9,279.3 1457.9,278.6 1458.8,283.8 1459.8,282.6 1460.8,285.0 1461.8,290.5 1463.0,285.5 1464.3,279.3 1465.2,277.1 1466.1,278.4 1467.0,275.9 1467.9,274.7 1468.8,277.6 1469.7,277.0 1470.8,271.4 1472.0,266.9 1473.0,267.6 1473.9,263.7 1474.9,263.5 1476.0,267.9 1477.0,269.0 1478.2,265.8 1479.4,265.8 1480.4,269.4 1481.3,268.9 1482.3,272.5 1483.4,278.1 1484.6,282.6 1486.0,278.0 1486.8,284.4 1487.7,291.6 1488.8,288.8 1490.0,282.6 1491.1,278.5 1492.2,277.0 1493.3,279.5 1494.5,279.3 1495.6,271.0 1496.7,263.5 1497.7,265.0 1498.6,260.3 1499.6,260.8 1500.8,266.7 1501.9,271.4 1503.0,273.5 1504.0,277.0 1504.8,276.2 1505.7,272.5 1506.8,274.6 1508.0,279.3 1509.1,279.9 1510.2,277.0 1511.3,282.3 1512.5,289.4 1513.5,289.6 1514.4,282.7 1515.4,282.6 1516.5,287.3 1517.6,288.3 1518.4,284.2 1519.2,281.5 1520.3,287.7 1521.5,290.5 1522.5,291.2 1523.4,295.9 1524.4,296.0 1525.5,291.9 1526.6,290.5 1527.8,294.7 1528.9,295.0 1529.9,288.7 1530.8,285.5 1531.8,279.3 1532.9,284.1 1534.0,290.5 1535.2,284.8 1536.3,278.0 1537.2,278.7 1538.1,285.8 1539.0,287.0 1540.2,284.2 1541.3,283.8 1542.2,288.7 1543.1,288.2 1544.0,293.9 1545.0,294.1 1545.9,289.7 1546.9,289.4 1548.0,288.0 1549.0,284.9 1549.9,279.8 1550.9,277.5 1551.8,272.5 1553.0,277.1 1554.3,283.8 1555.2,284.9 1556.1,282.4 1557.0,283.8 1558.1,281.8 1559.3,274.5 1560.4,271.4 1561.5,278.5 1562.6,284.9 1563.8,278.5 1564.9,273.6 1565.9,282.5 1566.8,289.6 1567.8,298.4 1568.7,294.1 1569.6,287.8 1570.5,283.8 1571.7,290.6 1572.8,296.0 1573.7,290.7 1574.6,286.0 1575.5,292.5 1576.4,296.9 1577.3,304.0 1578.4,297.4 1579.5,289.4 1580.4,292.0 1581.3,296.0 1582.1,291.1 1582.9,284.9 1583.8,280.7 1584.7,277.0 1585.5,282.4 1586.3,287.0"/>
</svg></body></html>
